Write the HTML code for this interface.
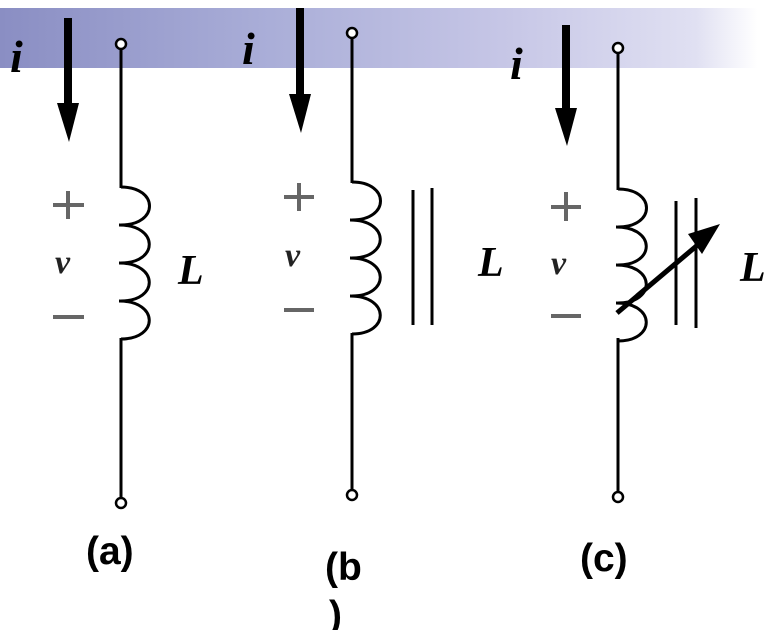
<!DOCTYPE html>
<html><head><style>
html,body{margin:0;padding:0;background:#fff;}
body{width:773px;height:630px;position:relative;overflow:hidden;font-family:"Liberation Serif",serif;}
.bar{position:absolute;left:0;top:8px;width:773px;height:60px;background:linear-gradient(90deg,#8a8ec3 0%,#aaaed8 35%,#c6c6e6 65%,#e0e0f2 90%,#ffffff 98%);}
</style></head><body>
<div class="bar"></div>
<svg width="773" height="630" style="position:absolute;left:0;top:0" font-family="Liberation Serif, serif">
<defs>
<path id="coil" d="M0,0 C38,0 38,38 0,38 M-2,38 C38,38 38,76 0,76 M-2,76 C38,76 38,114 0,114 M-2,114 C38,114 38,152 0,152" fill="none" stroke="#000" stroke-width="3"/>
</defs>
<g stroke="#000" fill="none" stroke-width="3">
<line x1="121" y1="49" x2="121" y2="188"/>
<line x1="121" y1="338" x2="121" y2="498"/>
<circle cx="121" cy="44" r="5" stroke-width="2.5" fill="#fff"/>
<circle cx="121" cy="503" r="5" stroke-width="2.5" fill="#fff"/>
<line x1="352" y1="38" x2="352" y2="183"/>
<line x1="352" y1="333" x2="352" y2="490"/>
<circle cx="352" cy="33" r="5" stroke-width="2.5" fill="#fff"/>
<circle cx="352" cy="495" r="5" stroke-width="2.5" fill="#fff"/>
<line x1="413" y1="190" x2="413" y2="325"/>
<line x1="432" y1="188" x2="432" y2="325"/>
<line x1="618" y1="53" x2="618" y2="190"/>
<line x1="618" y1="338" x2="618" y2="492"/>
<circle cx="618" cy="48" r="5" stroke-width="2.5" fill="#fff"/>
<circle cx="618" cy="497" r="5" stroke-width="2.5" fill="#fff"/>
<line x1="676" y1="201" x2="676" y2="325"/>
<line x1="696" y1="198" x2="696" y2="328"/>
<line x1="617" y1="313" x2="700" y2="243" stroke-width="5"/>
</g>
<use href="#coil" x="121" y="187"/>
<use href="#coil" x="352" y="182"/>
<use href="#coil" x="618" y="189"/>
<polygon points="720,224 688,234 702,254" fill="#000"/>
<g fill="#000">
<rect x="64" y="18" width="8" height="90"/><polygon points="57,103 79,103 69,142"/>
<rect x="296" y="8" width="8" height="90"/><polygon points="289,94 311,94 301,133"/>
<rect x="562" y="25" width="8" height="90"/><polygon points="555,108 577,108 567,146"/>
</g>
<g font-style="italic" font-weight="bold" font-size="46">
<text x="10" y="72">i</text>
<text x="242" y="64">i</text>
<text x="510" y="79">i</text>
</g>
<g font-style="italic" font-weight="bold" font-size="42">
<text x="178" y="284">L</text>
<text x="478" y="276">L</text>
<text x="740" y="281">L</text>
</g>
<g font-style="italic" font-weight="bold" font-size="34" fill="#222">
<text x="55" y="273">v</text>
<text x="285" y="266">v</text>
<text x="551" y="274">v</text>
</g>
<g stroke="#666" stroke-width="4">
<line x1="53" y1="205" x2="84" y2="205"/><line x1="68" y1="191" x2="68" y2="219"/>
<line x1="53" y1="317" x2="84" y2="317"/>
<line x1="284" y1="197" x2="314" y2="197"/><line x1="299" y1="183" x2="299" y2="211"/>
<line x1="284" y1="310" x2="314" y2="310"/>
<line x1="551" y1="207" x2="581" y2="207"/><line x1="566" y1="192" x2="566" y2="221"/>
<line x1="551" y1="316" x2="581" y2="316"/>
</g>
<g font-family="Liberation Sans, sans-serif" font-weight="bold" font-size="39">
<text x="86" y="564">(a)</text>
<text x="325" y="580">(b</text>
<text x="329" y="628">)</text>
<text x="580" y="571">(c)</text>
</g>
</svg>
</body></html>
